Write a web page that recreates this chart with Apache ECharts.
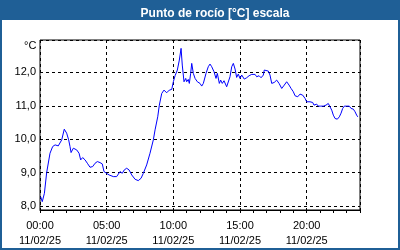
<!DOCTYPE html>
<html><head><meta charset="utf-8">
<script src="https://cdn.jsdelivr.net/npm/echarts@6/dist/echarts.min.js"></script>
<style>html,body{margin:0;padding:0;background:#fff}#c{width:400px;height:250px}</style>
</head><body><div id="c"></div>
<script>
const hours = [0.05,0.17,0.33,0.5,0.75,0.95,1.13,1.37,1.5,1.63,1.82,2.0,2.15,2.25,2.33,2.5,2.75,2.93,3.05,3.2,3.38,3.55,3.75,3.95,4.13,4.3,4.5,4.67,4.8,4.95,5.18,5.5,5.75,6.0,6.17,6.32,6.5,6.68,6.88,7.13,7.37,7.58,7.75,8.0,8.25,8.5,8.63,8.83,8.95,9.13,9.3,9.5,9.7,9.88,10.0,10.13,10.3,10.45,10.58,10.67,10.8,10.93,11.0,11.12,11.2,11.3,11.38,11.5,11.63,11.8,12.0,12.13,12.25,12.45,12.62,12.75,12.88,13.05,13.2,13.3,13.37,13.45,13.55,13.67,13.8,14.0,14.12,14.25,14.38,14.5,14.63,14.75,14.87,15.0,15.13,15.32,15.5,15.68,15.88,16.0,16.13,16.25,16.43,16.58,16.75,16.82,16.95,17.12,17.25,17.38,17.57,17.75,17.93,18.13,18.32,18.5,18.68,18.83,19.0,19.13,19.33,19.5,19.7,19.88,20.0,20.12,20.25,20.45,20.55,20.75,20.87,21.05,21.25,21.45,21.62,21.75,21.88,22.0,22.13,22.3,22.45,22.58,22.7,22.82,23.0,23.2,23.33,23.5,23.63,23.75,23.83];
const values = [8.28,8.13,8.38,9.0,9.58,9.78,9.83,9.80,9.78,9.98,10.30,10.18,9.98,9.78,9.60,9.73,9.68,9.58,9.38,9.45,9.38,9.28,9.16,9.18,9.28,9.33,9.30,9.26,9.03,8.98,8.93,8.88,8.88,9.03,8.98,9.08,9.13,9.08,8.93,8.80,8.76,8.83,8.98,9.23,9.58,9.98,10.28,10.67,11.02,11.37,11.47,11.39,11.47,11.49,11.72,11.90,12.07,12.37,12.72,12.22,11.72,11.82,11.72,11.79,11.67,11.97,12.27,11.97,11.82,11.72,11.67,11.59,11.67,11.97,12.17,12.25,12.17,12.02,11.82,11.97,12.02,11.67,11.77,11.67,11.75,11.57,11.52,11.87,12.17,12.27,12.10,11.85,11.95,11.82,11.92,11.80,11.84,11.90,11.94,11.90,11.94,11.87,11.90,11.84,11.92,12.07,12.04,12.04,11.92,11.67,11.70,11.77,11.67,11.52,11.62,11.72,11.62,11.52,11.42,11.30,11.27,11.35,11.32,11.22,11.12,11.07,11.12,11.10,11.02,11.05,10.99,10.99,10.99,11.02,11.07,10.97,10.87,10.72,10.62,10.60,10.67,10.78,10.92,10.99,10.99,10.99,10.92,10.90,10.82,10.72,10.67];
const timeLabels = ['00:00','05:00','10:00','15:00','20:00'];
const dateLabel = '11/02/25';
const titleText = 'Punto de rocío [°C] escala';
const unitText = '°C';

const chart = echarts.init(document.getElementById('c'), null, {renderer:'canvas'});
const F = 'Liberation Sans, Arial, sans-serif';
const dashed = {show:true, lineStyle:{color:'#000', type:[3,3], width:1}};
chart.setOption({
  animation:false,
  backgroundColor:'#fff',
  title:{text:titleText, left:210, top:3, textAlign:'center',
    textStyle:{color:'#fff', fontWeight:'bold', fontSize:12, fontFamily:F}},
  graphic:[
    {type:'rect', shape:{x:0,y:0,width:400,height:20}, style:{fill:'#1f5f96'}, z:-1},
    {type:'rect', shape:{x:0,y:0,width:2,height:250}, style:{fill:'#1f5f96'}, z:-1},
    {type:'rect', shape:{x:398,y:0,width:2,height:250}, style:{fill:'#1f5f96'}, z:-1},
    {type:'rect', shape:{x:0,y:248,width:400,height:2}, style:{fill:'#1f5f96'}, z:-1},
    {type:'text', left:24, top:40, style:{text:unitText, fill:'#000', font:'11px '+F}}
  ],
  grid:[
    {left:40, top:40, width:320, height:170, show:true, borderColor:'#000', borderWidth:1, backgroundColor:'transparent'},
    {left:40, top:40, width:320, height:166}
  ],
  xAxis:[
    {gridIndex:0, type:'value', min:0, max:24, interval:1, position:'bottom',
      axisLine:{show:true, lineStyle:{color:'#000'}},
      axisTick:{show:true, length:3, inside:false, lineStyle:{color:'#000'}},
      axisLabel:{show:false}, splitLine:{show:false}},
    {gridIndex:0, type:'value', min:0, max:24, interval:5, position:'bottom',
      axisLine:{show:false}, axisTick:{show:false},
      axisLabel:{show:true, margin:8, color:'#000', fontSize:11, fontFamily:F, lineHeight:15,
        formatter:function(v){const i=v/5; return (Number.isInteger(i)&&i<timeLabels.length)?timeLabels[i]+'\n'+dateLabel:'';}},
      splitLine:dashed},
    {gridIndex:1, type:'value', min:0, max:24, show:false}
  ],
  yAxis:[
    {gridIndex:0, type:'value', min:0, max:1, show:false},
    {gridIndex:1, type:'value', min:8, max:12.97, interval:1,
      axisLine:{show:false}, axisTick:{show:false},
      axisLabel:{show:true, margin:4, color:'#000', fontSize:11, fontFamily:F,
        formatter:function(v){return Number.isInteger(Math.round(v*1000)/1000)? v.toFixed(1).replace('.',','):'';}},
      splitLine:dashed}
  ],
  series:[{type:'line', xAxisIndex:2, yAxisIndex:1, showSymbol:false, symbol:'none',
    lineStyle:{color:'#0000ff', width:1}, data:hours.map((h,i)=>[h,values[i]])}]
});
</script></body></html>
